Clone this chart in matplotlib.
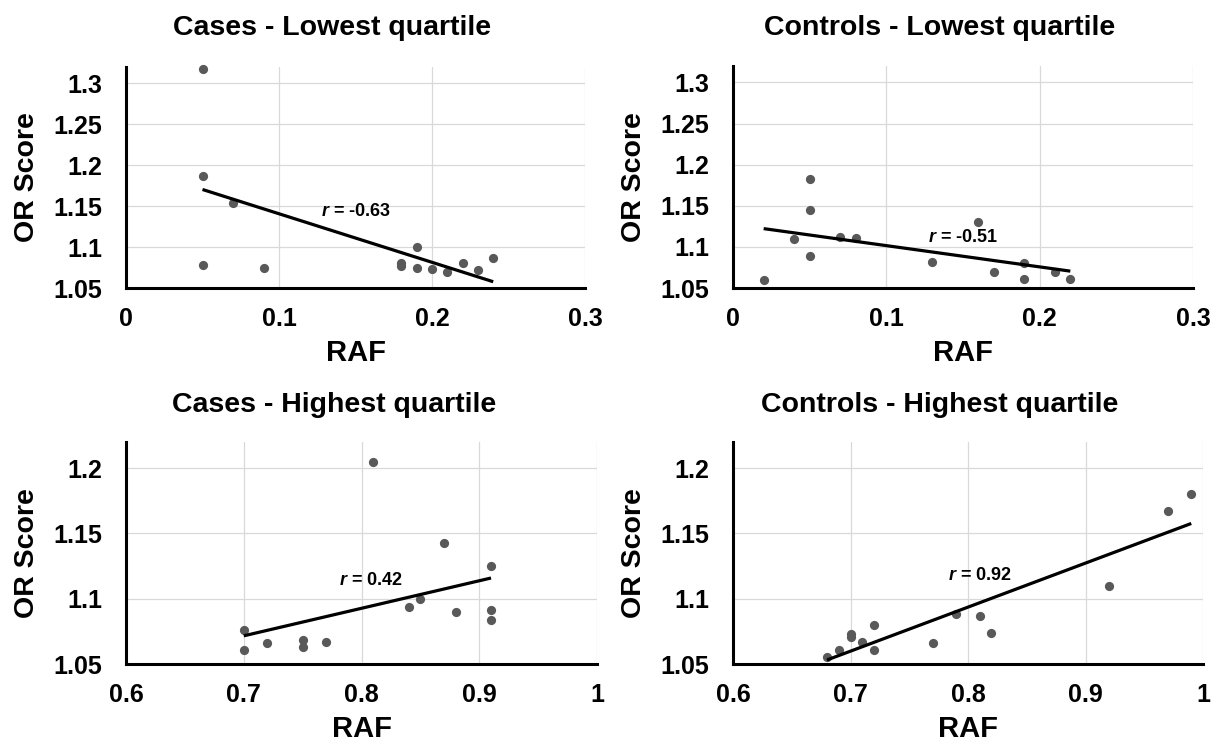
import numpy as np
import matplotlib
matplotlib.use('Agg')
import matplotlib.pyplot as plt
from matplotlib.ticker import FuncFormatter

plt.rcParams['font.family'] = ['Liberation Sans', 'DejaVu Sans']
plt.rcParams['font.weight'] = 'bold'
plt.rcParams['mathtext.fontset'] = 'custom'
plt.rcParams['mathtext.it'] = 'Liberation Sans:italic:bold'
plt.rcParams['mathtext.rm'] = 'Liberation Sans:bold'

titles = ['Cases - Lowest quartile', 'Controls - Lowest quartile',
          'Cases - Highest quartile', 'Controls - Highest quartile']
r_labels = ['-0.63', '-0.51', '0.42', '0.92']
r_pos = [(0.15, 1.144), (0.15, 1.111), (0.808, 1.114), (0.81, 1.118)]

cases_low_raf = [0.05, 0.05, 0.05, 0.07, 0.09, 0.18, 0.18, 0.19, 0.19, 0.20, 0.21, 0.22, 0.23, 0.24]
cases_low_or = [1.317, 1.187, 1.078, 1.154, 1.075, 1.080, 1.077, 1.100, 1.075, 1.073, 1.069, 1.081, 1.072, 1.087]

ctrl_low_raf = [0.02, 0.04, 0.05, 0.05, 0.05, 0.07, 0.08, 0.13, 0.16, 0.17, 0.19, 0.19, 0.21, 0.22]
ctrl_low_or = [1.060, 1.110, 1.182, 1.145, 1.089, 1.112, 1.111, 1.082, 1.130, 1.069, 1.080, 1.061, 1.070, 1.061]

cases_high_raf = [0.70, 0.70, 0.72, 0.75, 0.75, 0.77, 0.81, 0.84, 0.85, 0.87, 0.88, 0.91, 0.91, 0.91]
cases_high_or = [1.076, 1.061, 1.066, 1.068, 1.063, 1.067, 1.205, 1.094, 1.100, 1.143, 1.090, 1.125, 1.091, 1.084]

ctrl_high_raf = [0.68, 0.69, 0.70, 0.70, 0.71, 0.72, 0.72, 0.77, 0.79, 0.81, 0.82, 0.92, 0.97, 0.99]
ctrl_high_or = [1.0556, 1.0607, 1.0726, 1.0703, 1.067, 1.0797, 1.061, 1.066, 1.088, 1.087, 1.074, 1.110, 1.167, 1.180]

xs = [cases_low_raf, ctrl_low_raf, cases_high_raf, ctrl_high_raf]
ys = [cases_low_or, ctrl_low_or, cases_high_or, ctrl_high_or]

W, H = 1217, 743
#axes boxes in pixels: left, right, top, bottom
boxes = [(126, 585, 67, 288), (733, 1193, 66, 288),
         (126, 597, 442, 664), (733, 1203, 442, 664)]
title_px = [(332, 35), (940, 35), (334, 412), (940, 412)]

fig = plt.figure(figsize=(W/100, H/100), dpi=100)

for i in range(4):
  l, r, t, b = boxes[i]
  ax = fig.add_axes([l/W, 1-b/H, (r-l)/W, (b-t)/H])
  x = np.array(xs[i]); y = np.array(ys[i])
  ax.scatter(x, y, s=44, color='#595959', zorder=3, clip_on=False, linewidths=0)
  #linear trendline across the data range
  m, c = np.polyfit(x, y, 1)
  xl = np.array([x.min(), x.max()])
  ax.plot(xl, m*xl+c, color='black', lw=2.3, zorder=4, solid_capstyle='butt')
  if i < 2:
    ax.set_xlim(0, 0.3); ax.set_xticks([0, 0.1, 0.2, 0.3])
    ax.set_ylim(1.05, 1.32); ax.set_yticks([1.05, 1.1, 1.15, 1.2, 1.25, 1.3])
  else:
    ax.set_xlim(0.6, 1.0); ax.set_xticks([0.6, 0.7, 0.8, 0.9, 1.0])
    ax.set_ylim(1.05, 1.22); ax.set_yticks([1.05, 1.1, 1.15, 1.2])
  fmt = FuncFormatter(lambda v, p: ('%g' % round(v, 3)))
  ax.xaxis.set_major_formatter(fmt)
  ax.yaxis.set_major_formatter(fmt)
  ax.grid(True, color='#d9d9d9', lw=0.9, zorder=0)
  ax.set_axisbelow(True)
  for s in ['top', 'right']: ax.spines[s].set_visible(False)
  for s in ['left', 'bottom']:
    ax.spines[s].set_linewidth(2.2)
    ax.spines[s].set_zorder(5)
  ax.tick_params(axis='x', length=0, labelsize=18, pad=14)
  ax.tick_params(axis='y', length=0, labelsize=18, pad=17)
  for lab in ax.get_xticklabels() + ax.get_yticklabels(): lab.set_fontweight('bold')
  ax.set_xlabel('RAF', fontsize=21, fontweight='bold')
  ax.xaxis.set_label_coords(0.5, -51/(b-t))
  ax.set_ylabel('OR Score', fontsize=20.5, fontweight='bold')
  ax.yaxis.set_label_coords(-86/(r-l), 0.5)
  rx, ry = r_pos[i]
  ax.text(rx, ry, r'$r$ = ' + r_labels[i], fontsize=13, fontweight='bold',
          ha='center', va='center', zorder=6)
  tx, ty = title_px[i]
  fig.text(tx/W, 1-ty/H, titles[i], fontsize=20.5, fontweight='bold', ha='center', va='baseline')

fig.savefig('out.png', dpi=100, facecolor='white')
